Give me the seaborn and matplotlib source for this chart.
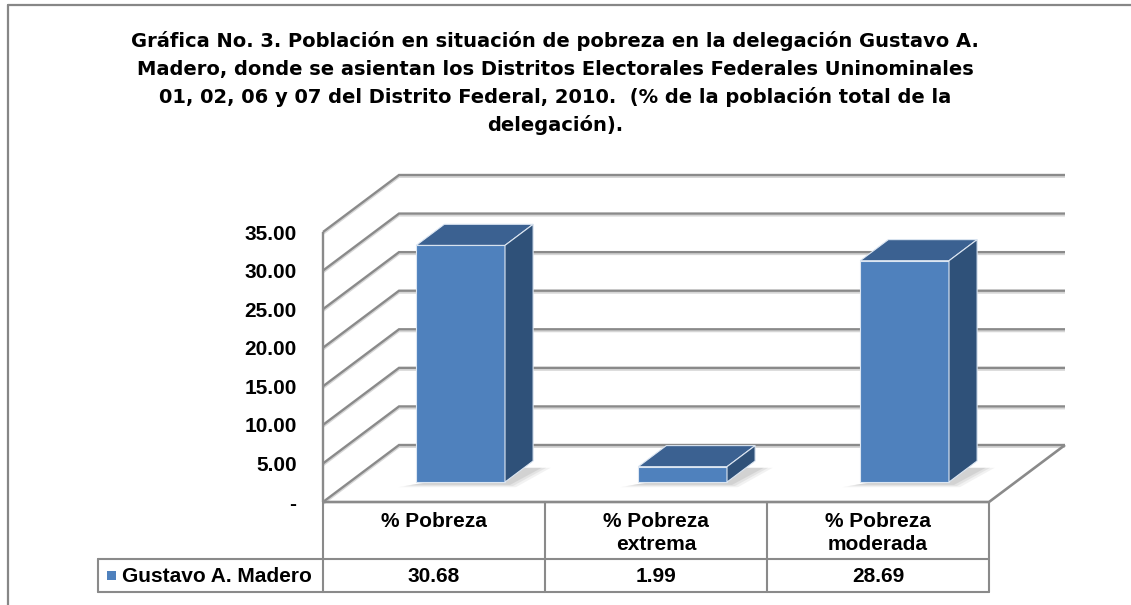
import numpy as np
import matplotlib
matplotlib.use("Agg")
import matplotlib.pyplot as plt
import seaborn as sns
import pandas as pd
from matplotlib import transforms
from matplotlib.patches import Polygon, Rectangle
from matplotlib.lines import Line2D

# ---------------- data ----------------
categories = ["% Pobreza", "% Pobreza\nextrema", "% Pobreza\nmoderada"]
values = [30.68, 1.99, 28.69]
series_name = "Gustavo A. Madero"
y_ticks = [0, 5, 10, 15, 20, 25, 30, 35]
title_lines = [
    "Gráfica No. 3. Población en situación de pobreza en la delegación Gustavo A.",
    "Madero, donde se asientan los Distritos Electorales Federales Uninominales",
    "01, 02, 06 y 07 del Distrito Federal, 2010.  (% de la población total de la",
    "delegación).",
]

# ---------------- style ----------------
W, H = 1131, 605
sns.set_theme(style="white")
plt.rcParams['font.family'] = ['Liberation Sans', 'DejaVu Sans']
plt.rcParams['font.weight'] = 'bold'

FRONT = "#4F81BD"
SIDE = "#2F5179"
TOP = "#3B6191"
GRID = "#8a8a8a"
GRID_SH = "#d6d6d6"

fig = plt.figure(figsize=(W / 100, H / 100), dpi=100)


def fx(px):
    return px / W


def fy(py):
    return 1 - py / H


ax = fig.add_axes([fx(323), fy(502), fx(989) - fx(323), fy(232) - fy(502)])
df = pd.DataFrame({"cat": categories, "val": values})
sns.barplot(data=df, x="cat", y="val", color=FRONT, width=0.4, saturation=1,
            ax=ax, zorder=5, edgecolor="#dce6f2", linewidth=0.8)
ax.set_xlim(-0.5, 2.5)
ax.set_ylim(0, 35)
ax.set_yticks(y_ticks)
ax.set_yticklabels(["-" if v == 0 else f"{v:.2f}" for v in y_ticks])
ax.tick_params(axis='y', length=0, pad=19, labelsize=15, labelcolor='black')
for lab in ax.get_yticklabels():
    lab.set_fontweight('bold')
ax.set_xticks([])
ax.set_xlabel("")
ax.set_ylabel("")
for s in ax.spines.values():
    s.set_visible(False)
ax.patch.set_alpha(0)

# depth of the 3D box in pixels
DX, DY = 76, 57
F0, F1 = 0.35, 0.72   # bar depth range


def P(x, y, f, sx=0.0, sy=0.0):
    d = ax.transData.transform((x, y)) + np.array([DX * f + sx, DY * f + sy])
    return fig.transFigure.inverted().transform(d)


def poly_line(pts, color=GRID, lw=1.7, z=1):
    pts = np.array(pts)
    ax.add_line(Line2D(pts[:, 0], pts[:, 1], transform=fig.transFigure, color=color,
                       lw=lw, zorder=z, clip_on=False, solid_capstyle='butt',
                       solid_joinstyle='miter'))


x_lo, x_hi = ax.get_xlim()
y_top = ax.get_ylim()[1]

# walls: shadows then lines
for v in y_ticks:
    poly_line([P(x_lo, v, 0, 0, -2), P(x_lo, v, 1, 0, -2), P(x_hi, v, 1, 0, -2)],
              color=GRID_SH, lw=1.4, z=0.5)
for v in y_ticks:
    poly_line([P(x_lo, v, 0), P(x_lo, v, 1), P(x_hi, v, 1)])
poly_line([P(x_lo, 0, 0), P(x_lo, y_top, 0)])
poly_line([P(x_lo, 0, 0), P(x_hi, 0, 0), P(x_hi, 0, 1)], lw=1.9)

# bars: front faces shifted in depth, plus side and top faces
shift = transforms.ScaledTranslation(DX * F0 / 100, DY * F0 / 100, fig.dpi_scale_trans)
for p in ax.patches:
    x0, w, h = p.get_x(), p.get_width(), p.get_height()
    x1 = x0 + w
    # soft shadow on the floor near the bar foot (layered for a blurred look)
    for k, a in enumerate([0.12, 0.16, 0.22]):
        g = 0.02 * (2 - k)
        sh = [P(x0 - 0.01 - g, 0, F0 - 0.05 - g), P(x1 + 0.04 + g, 0, F0 - 0.05 - g),
              P(x1 + 0.08 + g, 0, F0 + 0.25), P(x1 - 0.02, 0, F0 + 0.25)]
        ax.add_patch(Polygon(sh, closed=True, transform=fig.transFigure, facecolor="#9a9a9a",
                             edgecolor="none", alpha=a, zorder=2, clip_on=False))
    p.set_transform(ax.transData + shift)
    p.set_clip_on(False)
    top = [P(x0, h, F0), P(x1, h, F0), P(x1, h, F1), P(x0, h, F1)]
    side = [P(x1, 0, F0), P(x1, h, F0), P(x1, h, F1), P(x1, 0, F1)]
    ax.add_patch(Polygon(top, closed=True, transform=fig.transFigure, facecolor=TOP,
                         edgecolor="#dce6f2", lw=0.8, zorder=5, clip_on=False))
    ax.add_patch(Polygon(side, closed=True, transform=fig.transFigure, facecolor=SIDE,
                         edgecolor="#dce6f2", lw=0.8, zorder=5, clip_on=False))

# ---------------- data table ----------------
bt = transforms.blended_transform_factory(ax.transData, fig.transFigure)
TC = "#8a8a8a"
edges = [x_lo] + [i + 0.5 for i in range(len(categories))]
for e in edges:
    ax.add_line(Line2D([e, e], [fy(502), fy(592)], transform=bt, color=TC, lw=1.5,
                       clip_on=False, zorder=1))
for yy in (559, 592):
    ax.add_line(Line2D([fx(98), fx(989)], [fy(yy), fy(yy)], transform=fig.transFigure,
                       color=TC, lw=1.5, clip_on=False, zorder=1))
ax.add_line(Line2D([fx(98), fx(98)], [fy(559), fy(592)], transform=fig.transFigure,
                   color=TC, lw=1.5, clip_on=False, zorder=1))

for i, c in enumerate(categories):
    ax.text(i, fy(512), c, transform=bt, ha='center', va='top', fontsize=15,
            fontweight='bold', linespacing=1.3, color='black')
    ax.text(i, fy(576), f"{values[i]:.2f}", transform=bt, ha='center', va='center',
            fontsize=15, fontweight='bold', color='black')

fig.add_artist(Rectangle((fx(107), fy(580)), 9 / W, 9 / H, transform=fig.transFigure,
                         facecolor=FRONT, edgecolor='none'))
fig.text(fx(122), fy(576), series_name, ha='left', va='center', fontsize=15,
         fontweight='bold', color='black')

# ---------------- title ----------------
for k, t in enumerate(title_lines):
    fig.text(fx(555), fy(47 + 28 * k), t, ha='center', va='baseline', fontsize=14,
             fontweight='bold', color='black', family=['DejaVu Sans'])

# frame lines (left and top)
fig.add_artist(Line2D([fx(8), fx(8)], [fy(5), 0], transform=fig.transFigure,
                      color="#878787", lw=1.6))
fig.add_artist(Line2D([fx(8), 1], [fy(5), fy(5)], transform=fig.transFigure,
                      color="#878787", lw=1.6))

fig.savefig("out.png", dpi=100)
